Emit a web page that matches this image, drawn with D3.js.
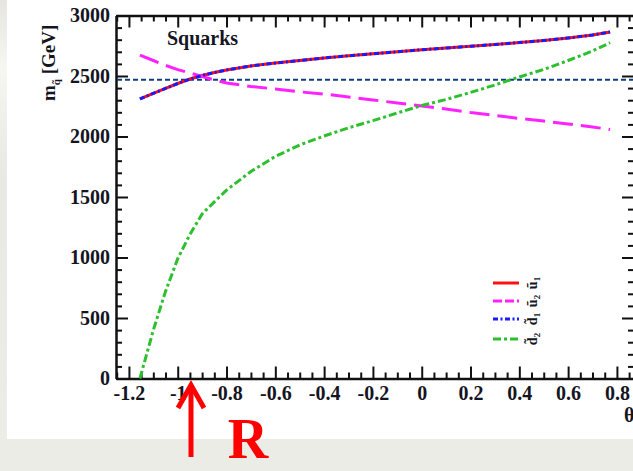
<!DOCTYPE html>
<html>
<head>
<meta charset="utf-8">
<script src="https://cdn.jsdelivr.net/npm/d3@7"></script>
<style>
  html, body { margin: 0; padding: 0; background: #ecece6; }
  svg { display: block; }
  text { font-family: "Liberation Serif", "DejaVu Serif", serif; font-weight: bold; }
</style>
</head>
<body>
<svg id="chart" width="633" height="471"></svg>
<script>
// Mixing angle grid (shared by all four squark curves)
const theta = [-1.155, -1.1, -1.05, -1.0, -0.95, -0.9, -0.85, -0.8, -0.7, -0.6, -0.5, -0.4,
               -0.3, -0.2, -0.1, 0.0, 0.1, 0.2, 0.3, 0.4, 0.5, 0.6, 0.7, 0.772];

// Squark masses in GeV
const mU1 = [2310, 2357, 2397, 2438, 2475, 2504, 2529, 2550, 2583, 2607, 2628, 2649,
             2667, 2684, 2700, 2717, 2731, 2746, 2760, 2776, 2793, 2814, 2839, 2864];
const mU2 = [2673, 2628, 2588, 2553, 2525, 2496, 2467, 2442, 2413, 2393, 2369, 2351,
             2326, 2302, 2277, 2252, 2227, 2198, 2174, 2149, 2128, 2103, 2079, 2058];
const mD1 = mU1.slice();
const mD2 = [0, 400, 720, 990, 1190, 1360, 1460, 1557, 1711, 1835, 1930, 2004,
             2072, 2131, 2194, 2256, 2306, 2364, 2426, 2492, 2554, 2628, 2707, 2775];

// Experimental lower bound (horizontal reference line)
const limitMass = 2470;

// Axis ticks
const xMajor = [-1.2, -1.0, -0.8, -0.6, -0.4, -0.2, 0, 0.2, 0.4, 0.6, 0.8];
const xLabels = ["-1.2", "-1", "-0.8", "-0.6", "-0.4", "-0.2", "0", "0.2", "0.4", "0.6", "0.8"];
const yMajor = [0, 500, 1000, 1500, 2000, 2500, 3000];
const yLabels = ["0", "500", "1000", "1500", "2000", "2500", "3000"];

const legendNames = [["ũ", "1"], ["ũ", "2"], ["d̃", "1"], ["d̃", "2"]];

const svg = d3.select("#chart");

// Page / slide background
svg.append("rect").attr("x", 0).attr("y", 0).attr("width", 633).attr("height", 471).attr("fill", "#ecece6");
const grad = svg.append("defs").append("linearGradient").attr("id", "leftband")
  .attr("x1", 0).attr("y1", 0).attr("x2", 0).attr("y2", 1);
grad.append("stop").attr("offset", "0").attr("stop-color", "#e6e6df");
grad.append("stop").attr("offset", "0.15").attr("stop-color", "#f6f6f2");
grad.append("stop").attr("offset", "0.4").attr("stop-color", "#e9e9e3");
grad.append("stop").attr("offset", "1").attr("stop-color", "#ededE7");
svg.append("rect").attr("x", 0).attr("y", 0).attr("width", 8).attr("height", 440).attr("fill", "url(#leftband)");
svg.append("rect").attr("x", 7).attr("y", 0).attr("width", 626).attr("height", 439).attr("fill", "#ffffff");

const xMin = -1.253, xMax = 0.87;
const x = d3.scaleLinear().domain([xMin, xMax]).range([116, 634]);
const y = d3.scaleLinear().domain([0, 3000]).range([378.5, 15.5]);

const x0 = x.range()[0], x1 = x.range()[1];
const y0 = y.range()[0], y1 = y.range()[1];

// Minor tick values
const xMinor = d3.range(-1.25, 0.87, 0.05).map(v => +v.toFixed(3)).filter(v => !xMajor.some(m => Math.abs(m - v) < 1e-6));
const yMinor = d3.range(0, 3001, 100).filter(v => v % 500 !== 0);

function styleAxis(g) {
  g.select(".domain").attr("stroke", "#111").attr("stroke-width", 2.5);
  g.selectAll(".tick line").attr("stroke", "#111").attr("stroke-width", 2);
}

// Bottom axis
const gb = svg.append("g").attr("transform", `translate(0,${y0})`)
  .call(d3.axisBottom(x).tickValues(xMajor).tickSize(-12).tickPadding(7)
    .tickFormat((d, i) => xLabels[i]).tickSizeOuter(0));
styleAxis(gb);
gb.selectAll("text").attr("font-size", 20).attr("fill", "#15151f");
svg.append("g").attr("transform", `translate(0,${y0})`)
  .call(d3.axisBottom(x).tickValues(xMinor).tickSize(-6).tickFormat("").tickSizeOuter(0))
  .call(g => { g.select(".domain").remove(); g.selectAll("line").attr("stroke", "#111").attr("stroke-width", 2); });

// Top axis
const gt = svg.append("g").attr("transform", `translate(0,${y1})`)
  .call(d3.axisTop(x).tickValues(xMajor).tickSize(-12).tickFormat("").tickSizeOuter(0));
styleAxis(gt);
svg.append("g").attr("transform", `translate(0,${y1})`)
  .call(d3.axisTop(x).tickValues(xMinor).tickSize(-6).tickFormat("").tickSizeOuter(0))
  .call(g => { g.select(".domain").remove(); g.selectAll("line").attr("stroke", "#111").attr("stroke-width", 2); });

// Left axis
const gl = svg.append("g").attr("transform", `translate(${x0},0)`)
  .call(d3.axisLeft(y).tickValues(yMajor).tickSize(-12).tickPadding(6)
    .tickFormat((d, i) => yLabels[i]).tickSizeOuter(0));
styleAxis(gl);
gl.selectAll("text").attr("font-size", 20).attr("fill", "#15151f");
svg.append("g").attr("transform", `translate(${x0},0)`)
  .call(d3.axisLeft(y).tickValues(yMinor).tickSize(-6).tickFormat("").tickSizeOuter(0))
  .call(g => { g.select(".domain").remove(); g.selectAll("line").attr("stroke", "#111").attr("stroke-width", 2); });

// Right axis
const gr = svg.append("g").attr("transform", `translate(${x1},0)`)
  .call(d3.axisRight(y).tickValues(yMajor).tickSize(-12).tickFormat("").tickSizeOuter(0));
styleAxis(gr);
svg.append("g").attr("transform", `translate(${x1},0)`)
  .call(d3.axisRight(y).tickValues(yMinor).tickSize(-6).tickFormat("").tickSizeOuter(0))
  .call(g => { g.select(".domain").remove(); g.selectAll("line").attr("stroke", "#111").attr("stroke-width", 2); });

// Horizontal limit line
svg.append("line")
  .attr("x1", x0 + 1).attr("x2", x1)
  .attr("y1", y(limitMass)).attr("y2", y(limitMass))
  .attr("stroke", "#0b3f80").attr("stroke-width", 2).attr("stroke-dasharray", "5,3");

// Curves
const line = d3.line().x(d => x(d[0])).y(d => y(d[1]));
const series = [
  { vals: mU1, color: "#ff1010", dash: null },
  { vals: mU2, color: "#ff22ff", dash: "20,8" },
  { vals: mD1, color: "#1a1aff", dash: "5,2.5,2,2.5" },
  { vals: mD2, color: "#2dbf2d", dash: "8,3,3,3" }
];
const plot = svg.append("g");
series.forEach(s => {
  plot.append("path")
    .datum(theta.map((t, i) => [t, s.vals[i]]))
    .attr("d", line)
    .attr("fill", "none")
    .attr("stroke", s.color)
    .attr("stroke-width", 3)
    .attr("stroke-dasharray", s.dash);
});

// Legend
const legY = [283, 301, 319, 339];
const leg = svg.append("g");
series.forEach((s, i) => {
  leg.append("line")
    .attr("x1", 493).attr("x2", 519).attr("y1", legY[i]).attr("y2", legY[i])
    .attr("stroke", s.color).attr("stroke-width", 3)
    .attr("stroke-dasharray", s.dash ? (i === 1 ? "9,3" : s.dash) : null);
  const t = leg.append("text")
    .attr("transform", `translate(537,${legY[i]}) rotate(-90)`)
    .attr("text-anchor", "middle").attr("font-size", 14).attr("fill", "#15151f");
  t.append("tspan").text(legendNames[i][0]);
  t.append("tspan").attr("font-size", 9).attr("dy", 3).text(legendNames[i][1]);
});

// Title inside the frame
svg.append("text").attr("x", 167).attr("y", 45).attr("font-size", 20).attr("fill", "#15151f").text("Squarks");

// Axis titles
const yt = svg.append("text")
  .attr("transform", "translate(55,101) rotate(-90)")
  .attr("font-size", 19).attr("fill", "#15151f");
yt.append("tspan").text("m");
yt.append("tspan").attr("font-size", 11).attr("dy", 5).text("q̃");
yt.append("tspan").attr("dy", -5).text(" [GeV]");

svg.append("text").attr("x", 624).attr("y", 422).attr("font-size", 20).attr("fill", "#15151f").text("θ");

// Annotation arrow and label
const ann = svg.append("g").attr("stroke", "#ff0000").attr("stroke-width", 5).attr("fill", "none")
  .attr("stroke-linecap", "butt").attr("stroke-linejoin", "miter");
ann.append("line").attr("x1", 191).attr("x2", 191).attr("y1", 457).attr("y2", 386);
ann.append("path").attr("d", "M178,408 L191,385 L204,408");
svg.append("text").attr("x", 248).attr("y", 458).attr("text-anchor", "middle")
  .attr("font-size", 56).attr("fill", "#ff0000").text("R");
</script>
</body>
</html>
